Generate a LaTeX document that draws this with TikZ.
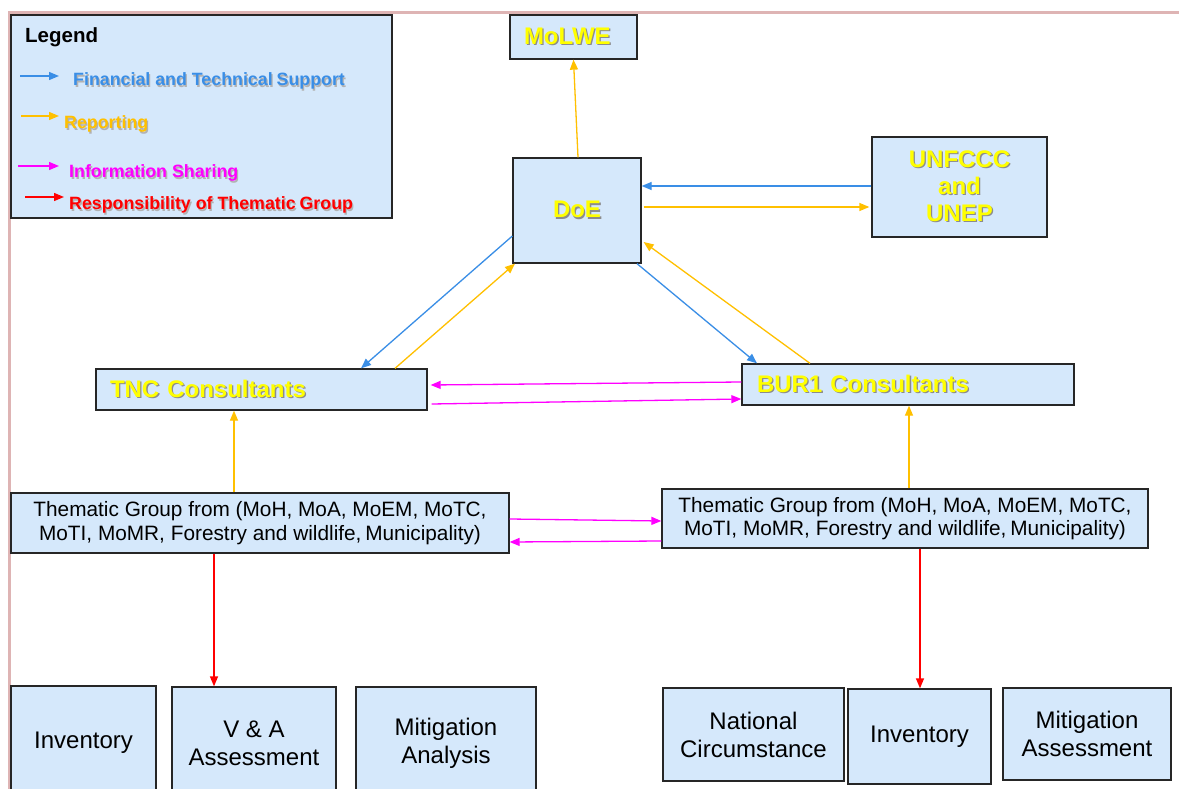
\documentclass[tikz,border=0pt]{standalone}
\usepackage{fontspec}
\setmainfont{Liberation Sans}
\usetikzlibrary{arrows.meta}
\definecolor{boxfill}{HTML}{D5E8FB}
\definecolor{cblue}{HTML}{3A8EE6}
\definecolor{corange}{HTML}{FFC000}
\definecolor{cmag}{HTML}{FF00FF}
\definecolor{cred}{HTML}{FF0000}
\definecolor{ytxt}{HTML}{FFFF00}
\definecolor{pinkb}{HTML}{DEB4B4}
\newcommand\shd[2][black!45]{\makebox[0pt][l]{\hspace{1.3pt}\raisebox{-1.3pt}{\textcolor{#1}{#2}}}#2}
\tikzset{
  box/.style={draw=black!85, line width=1.3pt, fill=boxfill, inner sep=0pt},
  ttl/.style={font=\fontsize{24}{27}\selectfont\bfseries, text=ytxt},
  tgtext/.style={font=\fontsize{20.8}{23.5}\selectfont, align=center},
  bottext/.style={font=\fontsize{24}{28}\selectfont, align=center},
  legtext/.style={font=\fontsize{17.8}{20}\selectfont\bfseries, anchor=base west, inner sep=0pt},
  arr/.style={-{Triangle[length=10pt,width=8pt]}, line width=1.3pt},
}
\begin{document}
\begin{tikzpicture}[x=1pt,y=-1pt]
\useasboundingbox (0,0) rectangle (1179,789);
\fill[white] (0,0) rectangle (1179,789);
\clip (0,0) rectangle (1179,789);
% frame
\draw[pinkb, line width=3pt] (9,800) -- (9,13) -- (1185,13);

% legend
\node[box, minimum width=381pt, minimum height=203pt] (legend) at (201.5,116.5) {};
\node[legtext, font=\fontsize{20.5}{24}\selectfont\bfseries] (legtitle) at (25,42.5) {Legend};
\coordinate (l1a) at (20,76); \coordinate (l1b) at (59,76);
\coordinate (l2a) at (21,116); \coordinate (l2b) at (59,116);
\coordinate (l3a) at (18,166); \coordinate (l3b) at (59,166);
\coordinate (l4a) at (25,197); \coordinate (l4b) at (64,197);
\draw[arr, cblue] (l1a) -- (l1b);
\draw[arr, corange] (l2a) -- (l2b);
\draw[arr, cmag] (l3a) -- (l3b);
\draw[arr, cred] (l4a) -- (l4b);
\node[legtext, text=cblue] (lt1) at (73,86) {\shd[black!30]{Financial and Technical\hspace{-1pt} Support}};
\node[legtext, text=corange] (lt2) at (64,129) {\shd[black!30]{Reporting}};
\node[legtext, text=cmag] (lt3) at (69,178) {\shd[black!30]{Information Sharing}};
\node[legtext, text=cred] (lt4) at (69,210) {\shd[black!30]{Responsibility of Thematic\hspace{-1pt} Group}};

% main boxes
\node[box, ttl, minimum width=127pt, minimum height=44pt, text width=99pt, inner xsep=14pt, align=left] (molwe) at (573.5,37) {\shd{MoLWE}};
\node[box, ttl, minimum width=128pt, minimum height=105pt, align=center] (doe) at (577,210.5) {\shd{DoE}};
\node[box, ttl, minimum width=175pt, minimum height=100pt, align=center] (unfccc) at (959.5,187) {\shd{UNFCCC}\\\shd{and}\\\shd{UNEP}};
\node[box, ttl, minimum width=331pt, minimum height=41pt, text width=303pt, inner xsep=14pt, align=left] (tnc) at (261.5,389.5) {\shd{TNC Consultants}};
\node[box, ttl, minimum width=332pt, minimum height=41pt, text width=302pt, inner xsep=15pt, align=left] (bur) at (908,384.5) {\shd{BUR1 Consultants}};
\node[box, tgtext, minimum width=498pt, minimum height=60pt] (tgl) at (260,523) {Thematic Group from (MoH, MoA, MoEM, MoTC,\\MoTI, MoMR, Forestry and wildlife,\hspace{-2pt} Municipality)};
\node[box, tgtext, minimum width=486pt, minimum height=59pt] (tgr) at (905,518.5) {Thematic Group from (MoH, MoA, MoEM, MoTC,\\MoTI, MoMR, Forestry and wildlife,\hspace{-2pt} Municipality)};

% bottom boxes
\node[box, bottext, minimum width=145pt, minimum height=114pt] (inv1) at (83.5,743) {Inventory};
\node[box, bottext, minimum width=164pt, minimum height=113pt] (va) at (254,743.5) {V \& A\\Assessment};
\node[box, bottext, minimum width=180pt, minimum height=113pt] (mit1) at (446,743.5) {Mitigation\\Analysis};
\node[box, bottext, minimum width=181pt, minimum height=93pt] (nat) at (753.5,734.5) {National\\Circumstance};
\node[box, bottext, minimum width=143pt, minimum height=95pt] (inv2) at (919.5,736.5) {Inventory};
\node[box, bottext, minimum width=168pt, minimum height=92pt] (mit2) at (1087,734) {Mitigation\\Assessment};

% connectors
\draw[arr, corange] ([xshift=1pt]doe.north) -- (molwe.south);
\draw[arr, cblue] ([yshift=1pt]unfccc.west) -- ([yshift=24.5pt]doe.east);
\draw[arr, corange] ([xshift=2pt,yshift=3.5pt]doe.east) -- ([xshift=-2pt,yshift=-20pt]unfccc.west);
\draw[arr, cblue] ([yshift=-25.5pt]doe.west) -- ([xshift=99.5pt]tnc.north);
\draw[arr, corange] ([xshift=133.5pt]tnc.north) -- ([xshift=-62pt]doe.south);
\draw[arr, cblue] ([xshift=60pt]doe.south) -- ([xshift=-151pt]bur.north);
\draw[arr, corange] ([xshift=-98pt]bur.north) -- ([xshift=2pt,yshift=-31.5pt]doe.east);
\draw[arr, cmag] ([yshift=2.5pt]bur.west) -- ([xshift=3pt,yshift=4.5pt]tnc.east);
\draw[arr, cmag] ([xshift=4pt,yshift=-14.5pt]tnc.east) -- ([yshift=-14.5pt]bur.west);
\draw[arr, corange] ([xshift=-26pt]tgl.north) -- ([xshift=-27.5pt]tnc.south);
\draw[arr, corange] ([xshift=4pt]tgr.north) -- ([xshift=1pt]bur.south);
\draw[arr, cmag] ([yshift=4pt]tgl.east) -- ([yshift=-2.5pt]tgr.west);
\draw[arr, cmag] ([yshift=-22.5pt]tgr.west) -- ([yshift=-19pt]tgl.east);
\draw[arr, cred] ([xshift=-46pt]tgl.south) -- ([xshift=-40pt]va.north);
\draw[arr, cred] ([xshift=15pt]tgr.south) -- ([xshift=0.5pt]inv2.north);
\end{tikzpicture}
\end{document}
